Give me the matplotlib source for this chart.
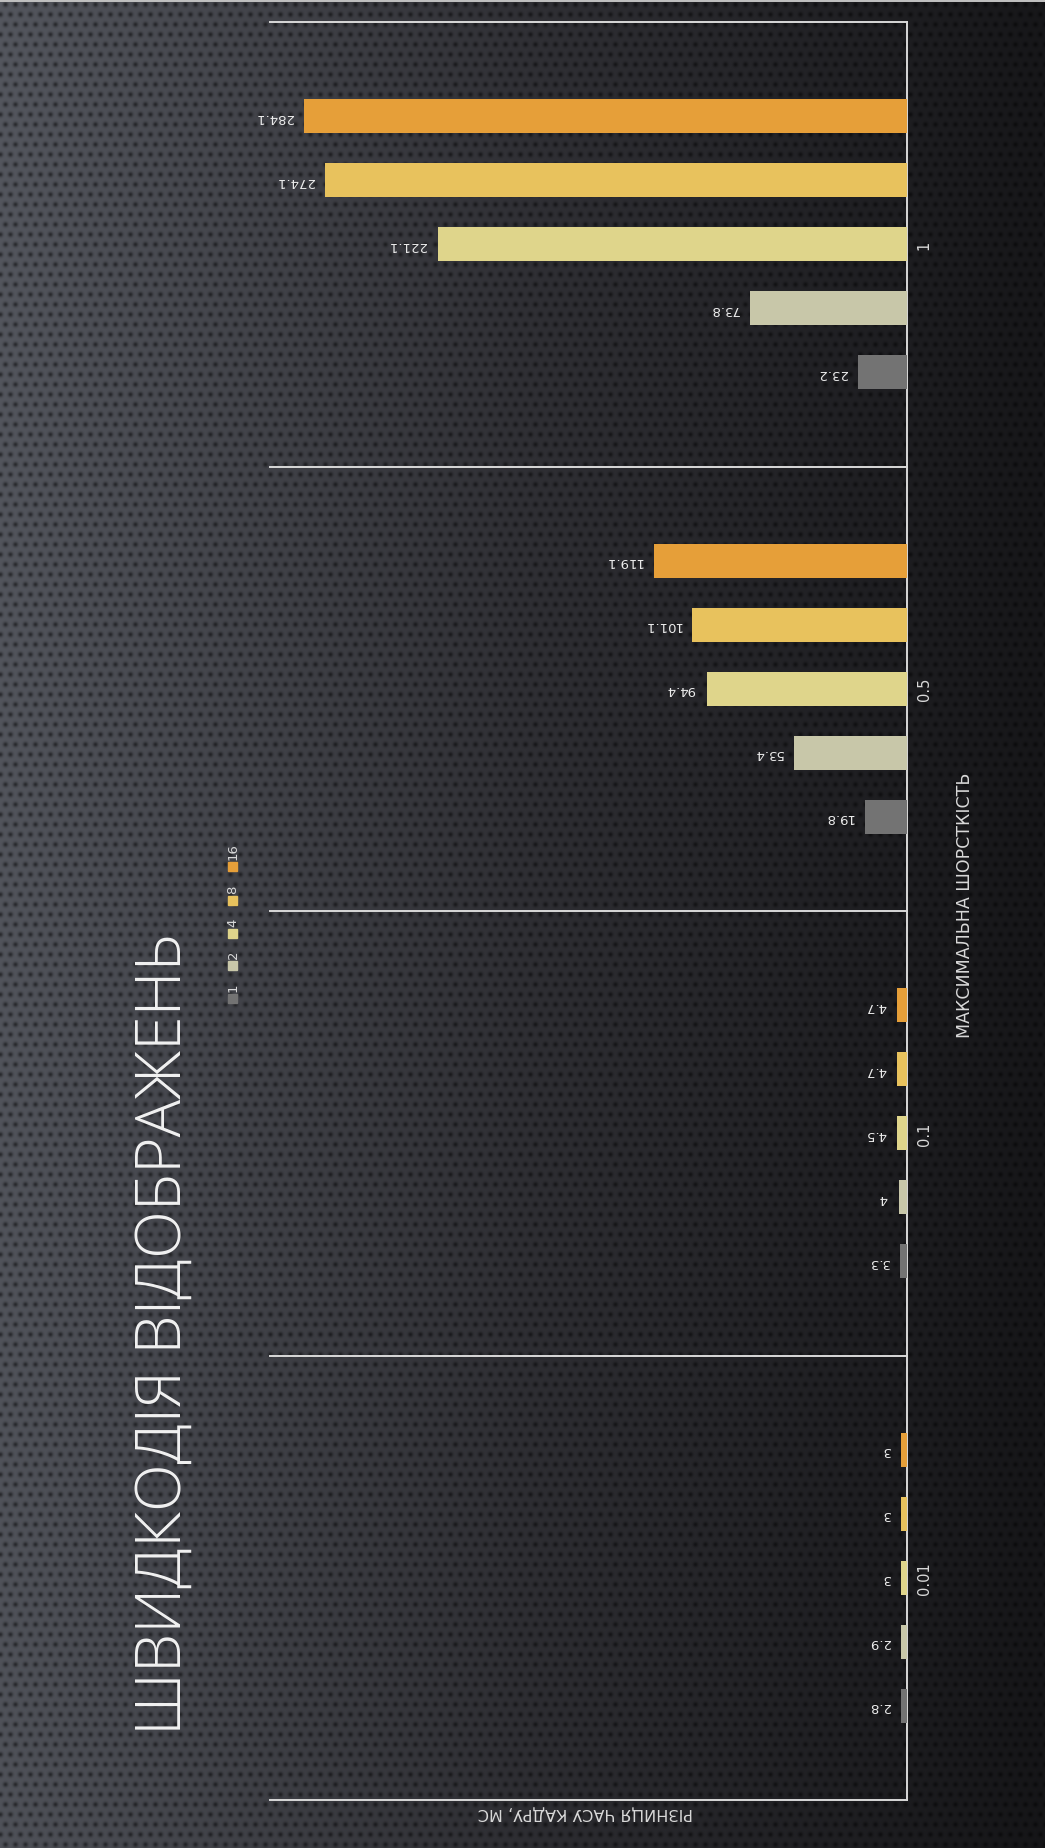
import numpy as np
import matplotlib
matplotlib.use("Agg")
import matplotlib.pyplot as plt
from matplotlib.patches import Rectangle

plt.rcParams['font.family'] = ['Open Sans', 'DejaVu Sans']

# data (frame-time difference, ms)
categories = ["0.01", "0.1", "0.5", "1"]
series_names = ["1", "2", "4", "8", "16"]
vals_1 = [2.8, 3.3, 19.8, 23.2]
vals_2 = [2.9, 4, 53.4, 73.8]
vals_4 = [3, 4.5, 94.4, 221.1]
vals_8 = [3, 4.7, 101.1, 274.1]
vals_16 = [3, 4.7, 119.1, 284.1]
series_vals = [vals_1, vals_2, vals_4, vals_8, vals_16]
colors = ["#737373", "#c8c7a9", "#dfd58b", "#e8c25d", "#e69f39"]

title = "ШВИДКОДІЯ ВІДОБРАЖЕНЬ"
cat_title = "МАКСИМАЛЬНА ШОРСТКІСТЬ"
val_title = "РІЗНИЦЯ ЧАСУ КАДРУ, МС"

W, H = 1045, 1849
fig = plt.figure(figsize=(W / 100, H / 100), dpi=100)


def fx(px):
    return px / W


def fy(py):
    return 1 - py / H


# background: dark gradient with perforated dot texture
yy, xx = np.mgrid[0:H, 0:W]
t = xx / W
left = np.array([0.33, 0.34, 0.37])
mid = np.array([0.19, 0.19, 0.21])
right = np.array([0.09, 0.09, 0.10])
s = np.clip(t / 0.5, 0, 1)[..., None]
s2 = np.clip((t - 0.5) / 0.5, 0, 1)[..., None]
base = np.where(t[..., None] < 0.5, left * (1 - s) + mid * s, mid * (1 - s2) + right * s2)
base *= (1 - 0.06 * (yy / H))[..., None]
period = 10
row = yy // period
ox = (xx + (row % 2) * period / 2) % period - period / 2
oy = yy % period - period / 2
dot = np.exp(-(ox ** 2 + oy ** 2) / 6.0)
img = base * (1 - 0.5 * dot[..., None])
img[0:3, :, :] = 0.75
bg = fig.add_axes([0, 0, 1, 1])
bg.imshow(np.clip(img, 0, 1), aspect='auto', extent=[0, 1, 0, 1], interpolation='bilinear')
bg.axis('off')

# main chart (rotated slide: bars extend leftwards)
ax = fig.add_axes([fx(270), fy(1801), fx(907) - fx(270), fy(23) - fy(1801)])
ax.patch.set_alpha(0)
ypos = np.arange(len(categories))
step = 0.144
bar_h = 0.077
for i, (name, vals) in enumerate(zip(series_names, series_vals)):
    yb = ypos + (i - 2) * step
    ax.barh(yb, vals, height=bar_h, color=colors[i], zorder=3)
    for y, v in zip(yb, vals):
        lab = f"{v:g}"
        ax.annotate(lab, (v, y), xytext=(-8, 0), textcoords='offset points',
                    ha='right', va='center', rotation=180, fontsize=9.5,
                    color='#ececec', family=['DejaVu Sans'])

ax.set_xlim(300, 0)
ax.set_ylim(-0.5, len(categories) - 0.5)
for g in np.arange(-0.5, len(categories), 1.0):
    ax.axhline(g, color='#d9d9d9', lw=1.4, zorder=2, clip_on=False)
for sp in ['top', 'bottom', 'left']:
    ax.spines[sp].set_visible(False)
ax.spines['right'].set_color('#d9d9d9')
ax.spines['right'].set_linewidth(1.4)
ax.set_xticks([])
ax.yaxis.tick_right()
ax.set_yticks(ypos)
ax.set_yticklabels(categories, rotation=90, va='center', fontsize=10.5,
                   color='#d9d9d9', family=['DejaVu Sans'])
ax.tick_params(axis='y', length=0, pad=7)

# axis titles
fig.text(fx(965), fy(905), cat_title, rotation=90, ha='center', va='center',
         fontsize=12.5, color='#d9d9d9', family=['DejaVu Sans'])
fig.text(fx(585), fy(1813), val_title, rotation=180, ha='center', va='center',
         fontsize=11.5, color='#d9d9d9', family=['DejaVu Sans'])

# title
fig.text(fx(164), fy(1334), title, rotation=90, ha='center', va='center',
         fontsize=45, color='#f2f2f2', fontweight='light')

# legend (rotated)
sq_y = [999, 966, 934, 901, 867]
for i, name in enumerate(series_names):
    ys = sq_y[i]
    fig.patches.append(Rectangle((fx(228), fy(ys + 4.5)), fx(9), 9 / H,
                                 transform=fig.transFigure, color=colors[i]))
    fig.text(fx(233), fy(ys - 7), name, rotation=90, ha='center', va='bottom',
             fontsize=9.5, color='#d9d9d9', family=['DejaVu Sans'])

fig.savefig("out.png", dpi=100)
